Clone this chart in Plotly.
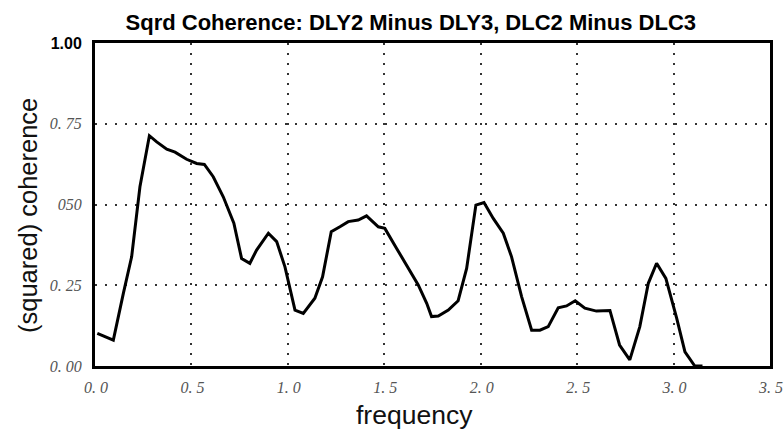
import plotly.graph_objects as go

freq = [0.012, 0.095, 0.147, 0.19, 0.233, 0.282, 0.32, 0.372, 0.415, 0.475, 0.527, 0.567,
        0.613, 0.665, 0.72, 0.76, 0.803, 0.838, 0.899, 0.942, 0.985, 1.037, 1.08, 1.14,
        1.18, 1.225, 1.27, 1.313, 1.365, 1.408, 1.469, 1.503, 1.564, 1.616, 1.676, 1.72,
        1.745, 1.78, 1.832, 1.883, 1.927, 1.975, 2.017, 2.065, 2.117, 2.16, 2.212, 2.264,
        2.307, 2.35, 2.402, 2.445, 2.49, 2.54, 2.6, 2.67, 2.72, 2.773, 2.825, 2.869,
        2.912, 2.96, 3.016, 3.059, 3.11, 3.15]
coherence = [0.101, 0.080, 0.225, 0.338, 0.555, 0.713, 0.694, 0.671, 0.662, 0.640, 0.627, 0.624,
             0.586, 0.524, 0.442, 0.333, 0.318, 0.359, 0.411, 0.385, 0.307, 0.173, 0.163, 0.210,
             0.276, 0.416, 0.431, 0.447, 0.452, 0.465, 0.431, 0.426, 0.364, 0.313, 0.251, 0.194,
             0.153, 0.155, 0.173, 0.202, 0.302, 0.498, 0.506, 0.457, 0.411, 0.338, 0.215, 0.111,
             0.111, 0.122, 0.180, 0.186, 0.202, 0.179, 0.170, 0.172, 0.065, 0.019, 0.122, 0.256,
             0.318, 0.271, 0.148, 0.044, 0.0, 0.0]

x_tickvals = [0.0, 0.5, 1.0, 1.5, 2.0, 2.5, 3.0, 3.5]
x_ticktext = ["0. 0", "0. 5", "1. 0", "1. 5", "2. 0", "2. 5", "3. 0", "3. 5"]
y_tickvals = [0.0, 0.25, 0.5, 0.75, 1.0]
y_ticktext = ["0. 00", "0. 25", "050", "0. 75",
              "<span style='font-family:Liberation Sans,Arial;font-style:normal;font-weight:bold;fill:#000'>1.00</span>"]

title_text = "Sqrd Coherence: DLY2 Minus DLY3, DLC2 Minus DLC3"
x_title = "frequency"
y_title = "(squared) coherence"

fig = go.Figure()
fig.add_trace(go.Scatter(x=freq, y=coherence, mode="lines",
                         line=dict(color="black", width=3), showlegend=False))

tickfont = dict(family="Liberation Serif, Times New Roman, serif", size=16,
                color="#555555", style="italic")
labelfont = dict(family="Liberation Sans, Arial", color="#111111")

fig.update_layout(
    width=784, height=435,
    margin=dict(l=95, r=14, t=43, b=69, autoexpand=False),
    paper_bgcolor="white", plot_bgcolor="white",
    title=dict(text="<b>" + title_text + "</b>", x=0.524, xanchor="center",
               y=1 - 22 / 435, yanchor="middle", yref="container",
               font=dict(family="Liberation Sans Narrow, Arial Narrow, Liberation Sans, Arial",
                         size=22, color="black")),
    xaxis=dict(range=[0, 3.5], tickvals=x_tickvals, ticktext=x_ticktext, automargin=False,
               tickfont=tickfont, ticks="", ticklabelstandoff=5, ticklabelshift=1,
               ticklabeloverflow="allow",
               showgrid=True, gridcolor="#333333", gridwidth=1.5, griddash="2px,8px",
               showline=True, linecolor="black", linewidth=3, mirror=True,
               zeroline=False),
    yaxis=dict(range=[0, 1], tickvals=y_tickvals, ticktext=y_ticktext, automargin=False,
               tickfont=tickfont, ticks="", ticklabelstandoff=7,
               showgrid=True, gridcolor="#333333", gridwidth=1.5, griddash="2px,8px",
               showline=True, linecolor="black", linewidth=3, mirror=True,
               zeroline=False),
    annotations=[
        dict(text=x_title, xref="paper", yref="paper", x=(414 - 95) / 675, y=(366 - 415) / 323,
             xanchor="center", yanchor="middle", showarrow=False,
             font=dict(size=26.5, **labelfont)),
        dict(text=y_title, xref="paper", yref="paper", x=(28 - 95) / 675, y=(366 - 216) / 323,
             xanchor="center", yanchor="middle", showarrow=False, textangle=-90,
             font=dict(size=25.5, **labelfont)),
    ],
)

fig.write_html("out.html")
